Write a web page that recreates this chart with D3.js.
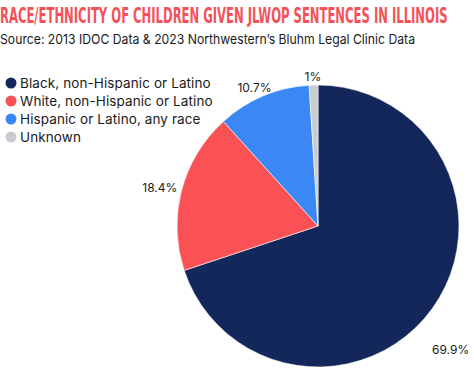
<!DOCTYPE html>
<html>
<head>
<meta charset="utf-8">
<script src="https://cdn.jsdelivr.net/npm/d3@7"></script>
<style>
  body { margin: 0; background: #fff; }
  svg { display: block; }
  .title { font-family: "Liberation Sans Narrow", "DejaVu Sans Condensed", sans-serif; font-weight: bold; fill: #f4525a; }
  .sub, .legend text, .lbl { font-family: Inter, "Open Sans", sans-serif; fill: #1a1a1a; }
</style>
</head>
<body>
<div class="container"></div>
<script>
var categories = ['Black, non-Hispanic or Latino', 'White, non-Hispanic or Latino', 'Hispanic or Latino, any race', 'Unknown'];
var values = [69.9, 18.4, 10.7, 1];
var labels = ['69.9%', '18.4%', '10.7%', '1%'];
var colors = ['#14275b', '#fa5154', '#3b88f5', '#c8cbd0'];

const WIDTH = 474;
const HEIGHT = 372;
const CX = 318;
const CY = 226;
const R = 141;

var translate = (x, y) => (`translate(${x}, ${y})`);

var svg = d3.select('.container').append('svg')
    .attr('width', WIDTH)
    .attr('height', HEIGHT);

// title squeezed horizontally to mimic the condensed display face
var title = svg.append('text')
    .attr('class', 'title')
    .attr('x', 0)
    .attr('y', 0)
    .attr('font-size', 22)
    .text('RACE/ETHNICITY OF CHILDREN GIVEN JLWOP SENTENCES IN ILLINOIS');
var tw = title.node().getComputedTextLength();
title.attr('transform', `translate(0, 22.5) scale(${448 / tw}, 1)`);

svg.append('text')
    .attr('class', 'sub')
    .attr('x', 0)
    .attr('y', 43.5)
    .attr('font-size', 13.5)
    .attr('textLength', 415)
    .attr('lengthAdjust', 'spacingAndGlyphs')
    .text('Source: 2013 IDOC Data & 2023 Northwestern\u2019s Bluhm Legal Clinic Data');

// legend
var legend = svg.append('g').attr('class', 'legend')
    .attr('transform', translate(0, 83));

var item = legend.selectAll('g')
    .data(categories)
    .enter().append('g')
    .attr('transform', (d, i) => translate(0, i * 18));

item.append('circle')
    .attr('cx', 11)
    .attr('cy', 0)
    .attr('r', 5.5)
    .attr('fill', (d, i) => colors[i]);

item.append('text')
    .attr('x', 20)
    .attr('y', 4.5)
    .attr('font-size', 13.5)
    .attr('letter-spacing', 0.1)
    .text(d => d);

// pie
var pie = d3.pie().sort(null).value(d => d);
var arcs = pie(values);

var arc = d3.arc().innerRadius(0).outerRadius(R);

// labels sit outside the pie, a bit further out below the centre
var labelPos = function (d) {
    var a = (d.startAngle + d.endAngle) / 2;
    var c = Math.cos(a);
    var x = Math.sin(a) * R * 1.16;
    var y = -c * (c > 0 ? R * 1.06 : R * 1.5);
    return translate(x, y);
};

var g = svg.append('g').attr('transform', translate(CX, CY));

g.selectAll('path')
    .data(arcs)
    .enter().append('path')
    .attr('d', arc)
    .attr('fill', (d, i) => colors[i])
    .attr('stroke', '#fff')
    .attr('stroke-width', 0.6);

g.selectAll('text')
    .data(arcs)
    .enter().append('text')
    .attr('class', 'lbl')
    .attr('transform', labelPos)
    .attr('text-anchor', 'middle')
    .attr('dy', '0.35em')
    .attr('font-size', 12)
    .text((d, i) => labels[i]);
</script>
</body>
</html>
